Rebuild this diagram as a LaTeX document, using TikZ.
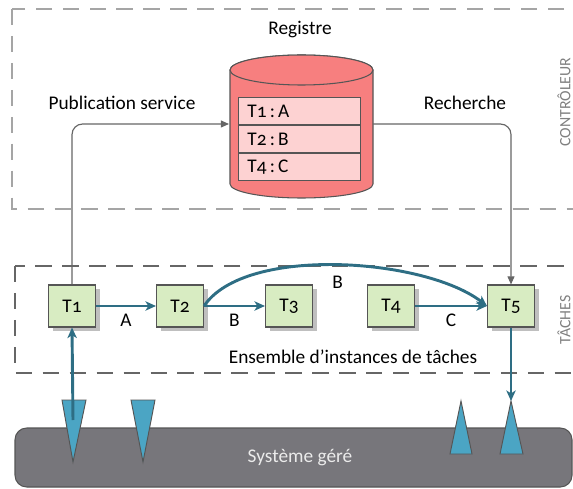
\documentclass[tikz,border=0pt]{standalone}
\usepackage{fontspec}
\setmainfont{Carlito}[Numbers=OldStyle]
\usetikzlibrary{arrows.meta, positioning, calc}
\definecolor{tache}   {HTML}{D8ECC2}
\definecolor{bord}    {HTML}{555555}
\definecolor{registre}{HTML}{F77F7F}
\definecolor{ligne}   {HTML}{FDD2D2}
\definecolor{flux}    {HTML}{2E6E84}
\definecolor{capteur} {HTML}{4BA5C4}
\definecolor{systeme} {HTML}{77767B}
\definecolor{cadre}   {HTML}{A5A5A5}

\begin{document}
\begin{tikzpicture}[
  x=0.03cm, y=-0.03cm, font=\fontsize{16.5}{19}\selectfont,
  % Task instances: same size for all five, a soft shadow to the lower right.
  inst/.style={draw=bord, fill=tache, line width=0.9pt, minimum width=1.41cm,
               minimum height=1.26cm, inner sep=0pt,
               preaction={draw=none, fill=black!25,
                          transform canvas={xshift=3.5pt, yshift=-3.5pt}}},
  % Registry entries, stacked inside the cylinder.
  entree/.style={draw=bord, fill=ligne, line width=0.8pt, minimum width=3.66cm,
                 minimum height=0.81cm, text width=3.1cm, align=left, inner sep=0pt},
  cyl/.style={draw=bord, fill=registre, line width=0.9pt},
  zone/.style={draw=cadre, line width=0.9pt, dash pattern=on 14pt off 9pt},
  zonet/.style={zone, draw=bord!90},
  capt/.style={draw=bord, fill=capteur, line width=0.8pt},
  ctrl/.style={-{Triangle[length=7pt, width=6pt]}, draw=bord!90, line width=1pt,
               rounded corners=9pt},
  msg/.style={-{Stealth[length=9pt, width=8pt, inset=2.5pt]}, draw=flux, line width=2.5pt},
  cote/.style={font=\fontsize{13.5}{15}\selectfont, text=black!50, rotate=90}
]
\useasboundingbox (0,0) rectangle (573,489);
\clip (0,0) rectangle (573,489);

% dashed zones
\draw[zone]  (12,9)   rectangle (600,209);
\draw[zonet] (15,266) rectangle (600,373);
\node[cote] (lctrl) at (564,102) {CONTRÔLEUR};
\node[cote] (ltach) at (564,320) {TÂCHES};

% registry
\node (lreg) at (300,30) {Registre};
\draw[cyl] (230,70) -- (230,184) arc[start angle=180, end angle=0, x radius=71.5, y radius=14]
  -- (373,70) arc[start angle=0, end angle=-180, x radius=71.5, y radius=15] -- cycle;
\draw[cyl] (301.5,70) ellipse[x radius=71.5, y radius=15];
\node[entree] (e1) at (299,111) {T1\,:\,A};
\node[entree, below=0pt of e1] (e2) {T2\,:\,B};
\node[entree, below=0pt of e2] (e3) {T4\,:\,C};
\coordinate (regw) at (229,124);
\coordinate (rege) at (373,124);

\node (lpub) at (122,103) {Publication service};
\node (lrech) at (465,103) {Recherche};

% managed system
\draw[draw=bord, fill=systeme, line width=0.9pt, rounded corners=10pt] (15,428) rectangle (572,487);
\node[text=white!92!black] (sys) at (300,458) {Système géré};

% sensors and effectors
\draw[capt] (62,400) -- (86,400) -- (73,462) -- cycle;
\draw[capt] (131,400) -- (155,400) -- (143,462) -- cycle;
\draw[capt] (450,454) -- (472,454) -- (461,401) -- cycle;
\draw[capt] (500,454) -- (523,454) -- (511,401) -- cycle;
\coordinate (s1) at (73,420);
\coordinate (a5) at (511,401);

% task instances
\node[inst] (t1) at (72,306)  {T1};
\node[inst] (t2) at (180,306) {T2};
\node[inst] (t3) at (289,306) {T3};
\node[inst] (t4) at (391,306) {T4};
\node[inst] (t5) at (511,306) {T5};
\node (lens) at (353,357) {Ensemble d’instances de tâches};

\draw[ctrl] (t1.north) |- (regw);
\draw[ctrl] (rege) -| (t5.north);

\draw[msg] (t1) -- node[below=2pt, text=black] {A} (t2);
\draw[msg] (t2) -- node[below=2pt, text=black] {B} (t3);
\draw[msg] (t4) -- node[below=2pt, text=black, pos=0.5] {C} (t5);
\draw[msg] (t2.east) .. controls (245,245) and (425,258) .. node[pos=0.5, below=5pt, text=black] {B} (t5.west);
\draw[msg] (s1) -- (t1.south);
\draw[msg] (t5.south) -- (a5);

\end{tikzpicture}
\end{document}
